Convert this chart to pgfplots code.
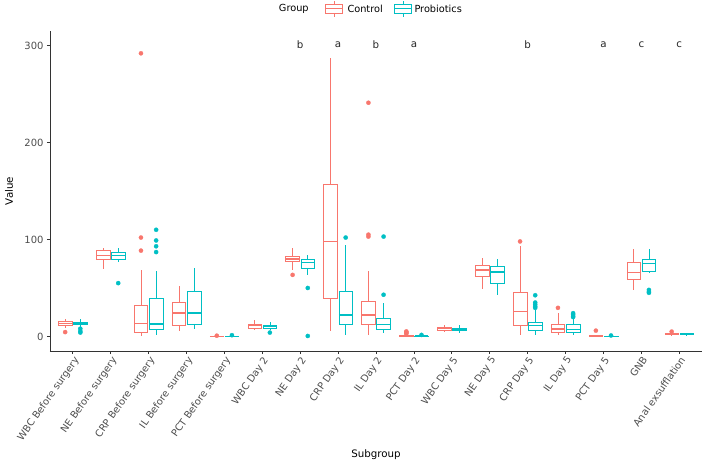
\documentclass[border=0pt]{standalone}
\usepackage{fontspec}
\setmainfont{DejaVu Sans}
\usepackage{pgfplots}
\pgfplotsset{compat=1.18}
\usepgfplotslibrary{statistics}
\definecolor{ctrl}{HTML}{F8766D}
\definecolor{prob}{HTML}{00BFC4}
\definecolor{axgray}{HTML}{333333}
\definecolor{tickgray}{HTML}{4D4D4D}
% position, lower whisker, lower quartile, median, upper quartile, upper whisker, outliers
\newcommand{\bpC}[7]{\addplot[ctrl, line width=0.7bp, mark=*, mark size=2.1bp,
  mark options={solid, fill=ctrl, draw=ctrl, line width=0.3bp},
  boxplot prepared={draw direction=y, draw position=#1, lower whisker=#2, lower quartile=#3,
  median=#4, upper quartile=#5, upper whisker=#6, box extend=0.36, whisker extend=0}]
  table[row sep=\\, y index=0] {v\\ #7};}
\newcommand{\bpP}[7]{\addplot[prob, line width=0.7bp, mark=*, mark size=2.1bp,
  mark options={solid, fill=prob, draw=prob, line width=0.3bp},
  boxplot prepared={draw direction=y, draw position=#1, lower whisker=#2, lower quartile=#3,
  median=#4, upper quartile=#5, upper whisker=#6, box extend=0.36, whisker extend=0}]
  table[row sep=\\, y index=0] {v\\ #7};}
\begin{document}
\begin{tikzpicture}
\begin{axis}[
  scale only axis, width=652bp, height=320bp,
  xmin=0.4, xmax=17.6, ymin=-15, ymax=315,
  axis x line*=bottom, axis y line*=left,
  axis line style={-, axgray, line width=0.8bp},
  tick align=outside, major tick length=3bp,
  tick style={axgray, line width=0.7bp},
  xtick={1,...,17},
  xticklabels={WBC Before surgery, NE Before surgery, CRP Before surgery, IL Before surgery, PCT Before surgery, WBC Day 2, NE Day 2, CRP Day 2, IL Day 2, PCT Day 2, WBC Day 5, NE Day 5, CRP Day 5, IL Day 5, PCT Day 5, GNB, Anal exsufflation},
  xticklabel style={rotate=55, anchor=north east, font=\fontsize{9.9}{11}\selectfont, text=tickgray, inner sep=1bp},
  ytick={0,100,200,300},
  yticklabel style={font=\fontsize{10}{11}\selectfont, text=tickgray},
  /pgf/number format/assume math mode=true,
  xlabel={Subgroup}, ylabel={Value},
  xlabel style={at={(axis description cs:0.5,-0.325)}, anchor=center, font=\fontsize{10.3}{12}\selectfont},
  ylabel style={at={(axis description cs:-0.0629,0.5)}, anchor=center, font=\fontsize{10.3}{12}\selectfont},
  boxplot/every median/.style={line width=1.4bp},
  clip=false,
]
% 1 WBC Before surgery
\bpC{0.8}{9}{11}{13.5}{15.5}{18}{4.5\\}
\bpP{1.2}{10}{12}{13.5}{14.5}{18}{8\\ 5.5\\ 4\\}
% 2 NE Before surgery
\bpC{1.8}{70}{79}{83.5}{89}{91}{}
\bpP{2.2}{77}{79}{83.5}{87}{91}{55\\}
% 3 CRP Before surgery
\bpC{2.8}{0.5}{4.5}{13.5}{32}{69}{292\\ 102\\ 88.5\\}
\bpP{3.2}{2}{7}{13}{39}{67}{110\\ 99\\ 93\\ 87\\}
% 4 IL Before surgery
\bpC{3.8}{6}{11.5}{24}{35}{52}{}
\bpP{4.2}{8}{13}{24}{47}{71}{}
% 5 PCT Before surgery
\bpC{4.8}{0}{0.05}{0.1}{0.2}{0.4}{0.8\\}
\bpP{5.2}{0}{0.05}{0.1}{0.3}{0.6}{1.3\\}
% 6 WBC Day 2
\bpC{5.8}{7}{8.5}{11}{12.5}{16.5}{}
\bpP{6.2}{7}{8}{10}{11.5}{14.5}{4\\}
% 7 NE Day 2
\bpC{6.8}{69}{77}{80}{83}{91}{63.5\\}
\bpP{7.2}{63.5}{70}{76.5}{79.5}{83.5}{50\\ 0.5\\}
% 8 CRP Day 2
\bpC{7.8}{6}{39.5}{98}{157}{287}{}
\bpP{8.2}{2}{12}{22}{47}{94}{102\\}
% 9 IL Day 2
\bpC{8.8}{2}{12}{22}{36}{67}{241\\ 105\\ 103\\}
\bpP{9.2}{4}{7}{12.5}{19}{35}{103\\ 43\\}
% 10 PCT Day 2
\bpC{9.8}{0}{0.3}{0.6}{1.2}{2}{2.8\\ 3.6\\ 4.4\\ 5.2\\}
\bpP{10.2}{0}{0.1}{0.3}{0.6}{1.2}{1.6\\}
% 11 WBC Day 5
\bpC{10.8}{5}{6.5}{8}{9.5}{12}{}
\bpP{11.2}{4}{6.5}{7.5}{8.5}{11.5}{}
% 12 NE Day 5
\bpC{11.8}{49}{61.5}{68.5}{73.5}{80.5}{}
\bpP{12.2}{42.5}{55}{66.5}{72}{80}{}
% 13 CRP Day 5
\bpC{12.8}{2}{11}{25.5}{45}{93}{98\\}
\bpP{13.2}{1.5}{6}{11}{15}{27}{42.5\\ 35\\ 33\\ 31\\ 29.5\\}
% 14 IL Day 5
\bpC{13.8}{1.5}{4}{7.5}{13}{24}{29.5\\}
\bpP{14.2}{1}{4.5}{7}{12}{18.5}{24\\ 22.5\\ 21\\ 20\\}
% 15 PCT Day 5
\bpC{14.8}{0}{0.2}{0.5}{1}{2}{6\\}
\bpP{15.2}{0}{0.1}{0.2}{0.4}{0.7}{1\\}
% 16 GNB
\bpC{15.8}{48}{58.5}{66}{76.5}{90}{}
\bpP{16.2}{65}{67.5}{75.5}{79.5}{90}{48\\ 46\\ 45\\}
% 17 Anal exsufflation
\bpC{16.8}{1}{1.8}{2.5}{3.2}{4}{5\\}
\bpP{17.2}{1.5}{2}{2.3}{2.8}{3.2}{}
% significance letters
\begin{scope}[every node/.style={font=\fontsize{10.3}{12}\selectfont, text=black!85}]
\node at (axis cs:7,301) {b};
\node at (axis cs:8,301) {a};
\node at (axis cs:9,301) {b};
\node at (axis cs:10,301) {a};
\node at (axis cs:13,301) {b};
\node at (axis cs:15,301) {a};
\node at (axis cs:16,301) {c};
\node at (axis cs:17,301) {c};
\end{scope}
\end{axis}
% legend
\begin{scope}[font=\fontsize{9.8}{11}\selectfont]
\node[anchor=center] at (243.8bp,342bp) {Group};
\draw[ctrl, line width=0.7bp] (275bp,337.7bp) rectangle (292.7bp,347bp);
\draw[ctrl, line width=1.2bp] (275bp,342.3bp) -- (292.7bp,342.3bp);
\draw[ctrl, line width=0.7bp] (283.85bp,347bp) -- (283.85bp,350bp) (283.85bp,337.7bp) -- (283.85bp,334.3bp);
\node[anchor=west, inner sep=0pt] at (297.3bp,342bp) {Control};
\draw[prob, line width=0.7bp] (344bp,337.7bp) rectangle (361.7bp,347bp);
\draw[prob, line width=1.2bp] (344bp,342.3bp) -- (361.7bp,342.3bp);
\draw[prob, line width=0.7bp] (352.85bp,347bp) -- (352.85bp,350bp) (352.85bp,337.7bp) -- (352.85bp,334.3bp);
\node[anchor=west, inner sep=0pt] at (364.3bp,342bp) {Probiotics};
\end{scope}
\pgfresetboundingbox
\path (-50bp,-113bp) rectangle (653bp,351bp);
\end{tikzpicture}
\end{document}
